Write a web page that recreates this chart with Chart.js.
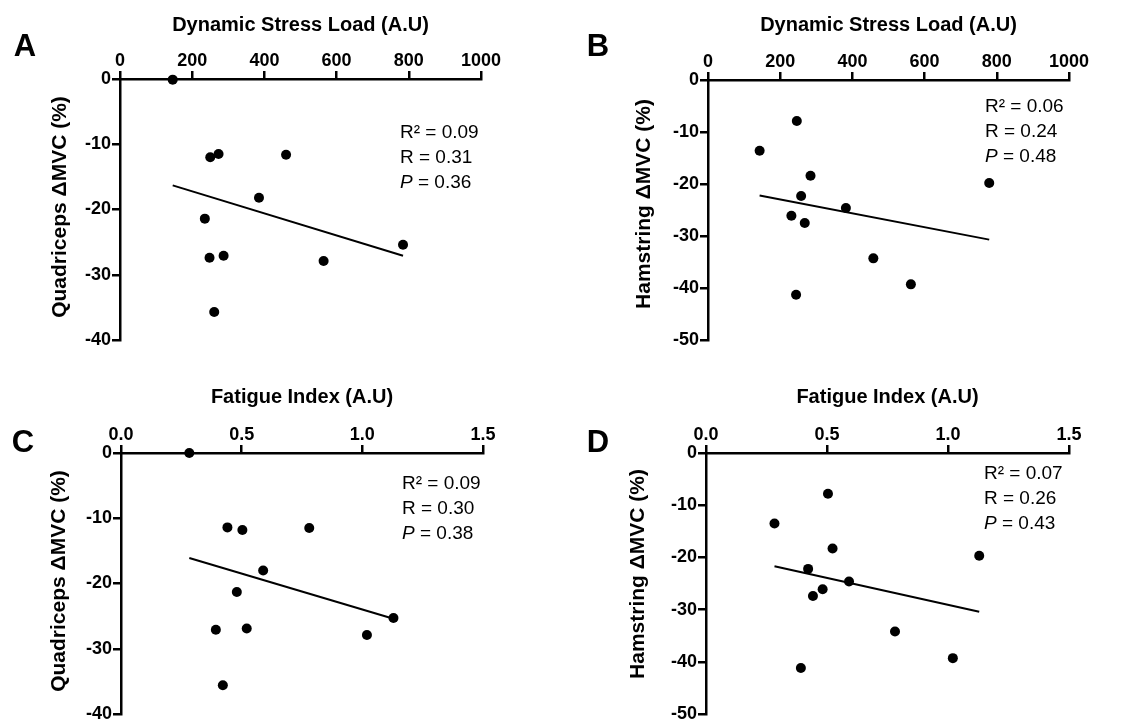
<!DOCTYPE html>
<html>
<head>
<meta charset="utf-8">
<script src="https://cdn.jsdelivr.net/npm/chart.js@4.4.1/dist/chart.umd.min.js"></script>
<style>
  html, body { margin: 0; padding: 0; background: #fff; }
  #wrap { position: relative; width: 1132px; height: 720px; }
  .panel { position: absolute; width: 566px; height: 360px; }
</style>
</head>
<body>
<div id="wrap">
  <div class="panel" style="left:0;top:0"><canvas id="chartA" width="566" height="360"></canvas></div>
  <div class="panel" style="left:566px;top:0"><canvas id="chartB" width="566" height="360"></canvas></div>
  <div class="panel" style="left:0;top:360px"><canvas id="chartC" width="566" height="360"></canvas></div>
  <div class="panel" style="left:566px;top:360px"><canvas id="chartD" width="566" height="360"></canvas></div>
</div>
<script>
// dynamic stress load vs quadriceps (A)
var dslA = [146, 250, 273, 460, 385, 235, 248, 287, 261, 564, 784]
var quadA = [-0.1, -12.0, -11.5, -11.6, -18.2, -21.4, -27.4, -27.1, -35.7, -27.9, -25.4]
var fitA_x = [146, 784]
var fitA_y = [-16.3, -27.1]
var statsA = ['0.09', '0.31', '0.36']

// dynamic stress load vs hamstring (B)
var dslB = [143, 246, 284, 258, 382, 231, 268, 458, 562, 244, 779]
var hamB = [-13.6, -7.9, -18.4, -22.3, -24.6, -26.1, -27.5, -34.3, -39.3, -41.3, -19.8]
var fitB_x = [143, 779]
var fitB_y = [-22.2, -30.7]
var statsB = ['0.06', '0.24', '0.48']

// fatigue index vs quadriceps (C)
var fiC = [0.283, 0.441, 0.503, 0.780, 0.589, 0.480, 0.393, 0.521, 0.422, 1.019, 1.129]
var quadC = [0, -11.4, -11.8, -11.5, -18.0, -21.3, -27.1, -26.9, -35.6, -27.9, -25.3]
var fitC_x = [0.283, 1.129]
var fitC_y = [-16.1, -25.4]
var statsC = ['0.09', '0.30', '0.38']

// fatigue index vs hamstring (D)
var fiD = [0.283, 0.504, 0.523, 0.422, 0.591, 0.482, 0.442, 0.781, 1.020, 0.392, 1.129]
var hamD = [-13.5, -7.8, -18.3, -22.2, -24.6, -26.1, -27.4, -34.2, -39.3, -41.2, -19.7]
var fitD_x = [0.283, 1.129]
var fitD_y = [-21.7, -30.4]
var statsD = ['0.07', '0.26', '0.43']

var dslTicks = [0, 1000, 200]
var fiTicks = [0, 1.5, 0.5]

var FONT = '"Liberation Sans", Arial, Helvetica, sans-serif'

function pts(xs, ys) {
    return xs.map(function (x, i) { return { x: x, y: ys[i] } })
}

// panel letter, y title and R/P text
var panelText = {
    id: 'panelText',
    afterDraw: function (chart, args, opts) {
        var ctx = chart.ctx
        var a = chart.chartArea
        ctx.save()
        ctx.fillStyle = '#000'
        ctx.textBaseline = 'middle'
        ctx.textAlign = 'center'
        ctx.font = 'bold 31px ' + FONT
        ctx.fillText(opts.letter, opts.letterX, opts.letterY)

        ctx.save()
        ctx.translate(opts.yTitleX, opts.yTitleY)
        ctx.rotate(-Math.PI / 2)
        ctx.font = 'bold 21px ' + FONT
        ctx.fillText(opts.yTitle, 0, 0)
        ctx.restore()

        ctx.textAlign = 'left'
        var x = a.right + opts.dx
        var y = a.top + opts.dy
        ctx.font = '19px ' + FONT
        ctx.fillText('R\u00B2 = ' + opts.stats[0], x, y)
        ctx.fillText('R = ' + opts.stats[1], x, y + 25)
        ctx.font = 'italic 19px ' + FONT
        ctx.fillText('P', x, y + 50)
        var w = ctx.measureText('P').width
        ctx.font = '19px ' + FONT
        ctx.fillText(' = ' + opts.stats[2], x + w, y + 50)
        ctx.restore()
    }
}

function makePanel(id, p) {
    return new Chart(document.getElementById(id), {
        data: {
            datasets: [
                {
                    type: 'scatter',
                    data: pts(p.xs, p.ys),
                    backgroundColor: '#000',
                    borderWidth: 0,
                    pointRadius: 5,
                    pointHoverRadius: 5,
                    clip: false
                },
                {
                    type: 'line',
                    data: pts(p.fitX, p.fitY),
                    borderColor: '#000',
                    borderWidth: 2,
                    pointRadius: 0,
                    clip: false
                }
            ]
        },
        options: {
            responsive: false,
            animation: false,
            events: [],
            layout: { padding: { left: 0, top: 0, right: 566 - p.right, bottom: 360 - p.bottom } },
            plugins: {
                legend: { display: false },
                tooltip: { enabled: false },
                panelText: {
                    letter: p.letter, letterX: p.letterX, letterY: p.letterY,
                    yTitle: p.yTitle, yTitleX: p.yTitleX, yTitleY: p.yTitleY,
                    stats: p.stats, dx: p.dx, dy: p.dy
                }
            },
            scales: {
                x: {
                    type: 'linear',
                    position: 'top',
                    min: p.xTicks[0],
                    max: p.xTicks[1],
                    afterFit: function (s) { s.height = p.top; s.paddingLeft = 0; s.paddingRight = 0 },
                    ticks: {
                        stepSize: p.xTicks[2],
                        padding: 1,
                        color: '#000',
                        font: { family: FONT, size: 18, weight: 'bold', lineHeight: 1 },
                        callback: function (v) { return p.xTicks[2] < 1 ? v.toFixed(1) : v }
                    },
                    grid: { drawOnChartArea: false, drawTicks: true, tickLength: 8, color: '#000', lineWidth: 2.5 },
                    border: { display: true, color: '#000', width: 2.5 },
                    title: {
                        display: true,
                        text: p.xTitle,
                        color: '#000',
                        padding: { top: p.xTitleY - 10, bottom: 0 },
                        font: { family: FONT, size: 20, weight: 'bold', lineHeight: 1 }
                    }
                },
                y: {
                    type: 'linear',
                    position: 'left',
                    min: p.yMin,
                    max: 0,
                    afterFit: function (s) { s.width = p.left; s.paddingTop = 0; s.paddingBottom = 0 },
                    ticks: {
                        stepSize: 10,
                        padding: 1,
                        color: '#000',
                        font: { family: FONT, size: 18, weight: 'bold', lineHeight: 1 }
                    },
                    grid: { drawOnChartArea: false, drawTicks: true, tickLength: 8, color: '#000', lineWidth: 2.5 },
                    border: { display: true, color: '#000', width: 2.5 }
                }
            }
        },
        plugins: [panelText]
    })
}

makePanel('chartA', {
    xs: dslA, ys: quadA, fitX: fitA_x, fitY: fitA_y, stats: statsA,
    xTicks: dslTicks, yMin: -40,
    xTitle: 'Dynamic Stress Load (A.U)', yTitle: 'Quadriceps \u0394MVC (%)',
    left: 120, top: 79, right: 481, bottom: 340,
    xTitleY: 25, yTitleX: 60, yTitleY: 207, letter: 'A', letterX: 25, letterY: 47, dx: -81, dy: 54
})

makePanel('chartB', {
    xs: dslB, ys: hamB, fitX: fitB_x, fitY: fitB_y, stats: statsB,
    xTicks: dslTicks, yMin: -50,
    xTitle: 'Dynamic Stress Load (A.U)', yTitle: 'Hamstring \u0394MVC (%)',
    left: 142, top: 80, right: 503, bottom: 340,
    xTitleY: 25, yTitleX: 78, yTitleY: 204, letter: 'B', letterX: 32, letterY: 47, dx: -84, dy: 27
})

makePanel('chartC', {
    xs: fiC, ys: quadC, fitX: fitC_x, fitY: fitC_y, stats: statsC,
    xTicks: fiTicks, yMin: -40,
    xTitle: 'Fatigue Index (A.U)', yTitle: 'Quadriceps \u0394MVC (%)',
    left: 121, top: 93, right: 483, bottom: 354,
    xTitleY: 37, yTitleX: 59, yTitleY: 221, letter: 'C', letterX: 23, letterY: 83, dx: -81, dy: 31
})

makePanel('chartD', {
    xs: fiD, ys: hamD, fitX: fitD_x, fitY: fitD_y, stats: statsD,
    xTicks: fiTicks, yMin: -50,
    xTitle: 'Fatigue Index (A.U)', yTitle: 'Hamstring \u0394MVC (%)',
    left: 140, top: 93, right: 503, bottom: 354,
    xTitleY: 37, yTitleX: 72, yTitleY: 214, letter: 'D', letterX: 32, letterY: 83, dx: -85, dy: 21
})
</script>
</body>
</html>
